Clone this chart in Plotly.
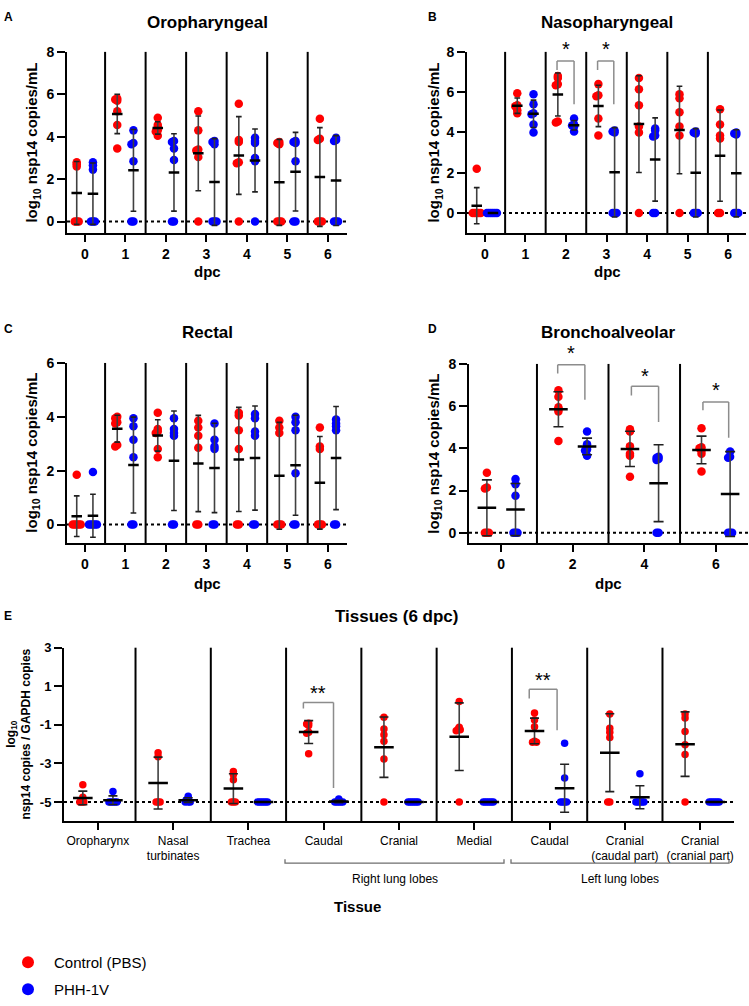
import plotly.graph_objects as go
import numpy as np

W, H = 749, 1006
RED, BLUE = "#FF0000", "#0000FF"
FONT = "Liberation Sans, Arial, Helvetica, sans-serif"
NARROW = "Liberation Sans Narrow, Arial Narrow, Liberation Sans, sans-serif"

# ---------------- data (log10 values) ----------------
dpc_labels = ["0", "1", "2", "3", "4", "5", "6"]

oro_pbs = [[2.8, 2.7, 2.6, 0, 0, 0],
           [5.8, 5.75, 5.7, 5.2, 4.55, 3.45],
           [4.9, 4.55, 4.45, 4.3, 4.25, 4.05],
           [5.2, 4.3, 3.4, 3.35, 3.05, 0],
           [5.55, 3.85, 3.75, 2.8, 2.75, 0],
           [3.75, 3.7, 3.65, 0, 0, 0],
           [4.85, 3.9, 3.85, 0, 0, 0]]
oro_phh = [[2.8, 2.65, 2.45, 0, 0, 0],
           [4.3, 3.7, 3.65, 2.85, 0, 0],
           [3.8, 3.75, 3.45, 2.9, 0, 0],
           [3.8, 3.75, 3.65, 0, 0, 0],
           [3.95, 3.8, 3.7, 3.0, 2.85, 0],
           [3.8, 3.75, 3.7, 2.85, 0, 0],
           [3.95, 3.85, 3.8, 0, 0, 0]]

naso_pbs = [[2.2, 0, 0, 0, 0, 0],
            [5.95, 5.35, 5.3, 5.1, 4.95],
            [6.8, 6.7, 6.4, 6.35, 4.55, 4.5],
            [6.4, 5.85, 5.8, 4.7, 3.85],
            [6.7, 6.15, 5.35, 4.3, 4.0, 0],
            [5.9, 5.7, 5.0, 4.3, 3.85, 0],
            [5.15, 4.4, 3.85, 3.7, 0, 0]]
naso_phh = [[0, 0, 0, 0, 0, 0],
            [5.9, 5.4, 4.95, 4.9, 4.4, 4.0],
            [4.7, 4.4, 4.35, 4.3, 4.05],
            [4.1, 4.05, 4.0, 0, 0, 0],
            [4.2, 4.1, 3.85, 3.8, 0, 0],
            [4.05, 4.0, 3.95, 0, 0, 0],
            [4.0, 3.95, 3.9, 0, 0, 0]]

rect_pbs = [[1.85, 0, 0, 0, 0, 0],
            [4.0, 3.95, 3.8, 3.75, 2.95, 2.9],
            [4.15, 3.55, 3.45, 3.4, 2.8, 2.5],
            [3.85, 3.6, 3.3, 2.85, 0, 0],
            [4.15, 4.05, 3.5, 2.8, 0, 0],
            [3.85, 3.6, 3.4, 0, 0, 0],
            [3.6, 2.9, 2.8, 0, 0, 0]]
rect_phh = [[1.95, 0, 0, 0, 0, 0],
            [3.95, 3.65, 3.15, 2.5, 0, 0],
            [3.95, 3.55, 3.4, 3.3, 0, 0],
            [3.75, 3.15, 2.9, 2.8, 0, 0],
            [4.1, 3.95, 3.45, 3.3, 0, 0],
            [4.0, 3.8, 3.5, 1.9, 0, 0],
            [3.9, 3.75, 3.65, 3.5, 0, 0]]

bal_labels = ["0", "2", "4", "6"]
bal_pbs = [[2.85, 2.15, 2.1, 0, 0, 0],
           [6.75, 6.45, 5.95, 5.85, 5.75, 4.35],
           [4.9, 4.8, 4.1, 3.75, 3.65, 2.65],
           [4.95, 4.05, 4.0, 3.9, 3.75, 2.9]]
bal_phh = [[2.55, 2.3, 1.75, 0, 0, 0],
           [4.8, 4.2, 4.05, 3.95, 3.9, 3.65],
           [3.6, 3.55, 3.5, 3.45, 0, 0],
           [3.85, 3.6, 3.55, 0, 0, 0]]

tissue_labels = ["Oropharynx", "Nasal<br>turbinates", "Trachea", "Caudal", "Cranial",
                 "Medial", "Caudal", "Cranial<br>(caudal part)", "Cranial<br>(cranial part)"]
tis_pbs = [[-4.1, -4.75, -4.9, -5, -5, -5],
           [-2.45, -2.65, -5, -5, -5],
           [-3.42, -3.57, -3.85, -5, -5, -5],
           [-0.92, -0.96, -1.04, -1.39, -1.44, -2.5],
           [-0.61, -1.22, -1.51, -1.85, -2.77, -5],
           [0.21, -1.13, -1.22, -1.25, -1.3, -5],
           [-0.39, -0.75, -1.1, -1.85, -1.9, -1.9],
           [-0.44, -1.18, -1.39, -1.65, -5, -5],
           [-0.44, -0.65, -1.34, -2.03, -2.54, -5]]
tis_phh = [[-4.45, -5, -5, -5, -5, -5],
           [-4.7, -4.83, -4.9, -5, -5, -5],
           [-5, -5, -5, -5, -5, -5],
           [-4.85, -5, -5, -5, -5, -5],
           [-5, -5, -5, -5, -5, -5],
           [-5, -5, -5, -5, -5, -5],
           [-1.96, -3.76, -5, -5, -5, -5],
           [-3.54, -5, -5, -5, -5, -5],
           [-5, -5, -5, -5, -5, -5]]

group_names = ["Control (PBS)", "PHH-1V"]

# significance brackets: (category, left offset, right offset, top, left foot, right foot, star y, text)
naso_sig = [(2, -0.22, 0.2, 7.55, 7.1, 5.4, 8.15, "*"),
            (3, -0.22, 0.18, 7.55, 7.1, 5.4, 8.15, "*")]
bal_sig = [(1, -0.21, 0.17, 7.96, 7.55, 6.3, 8.5, "*"),
           (2, -0.18, 0.2, 6.94, 6.5, 5.25, 7.45, "*"),
           (3, -0.18, 0.18, 6.2, 5.8, 4.5, 6.75, "*")]
tis_sig = [(3, -0.27, 0.13, 0.16, -0.15, -4.27, 0.65, "**"),
           (6, -0.27, 0.10, 0.84, 0.37, -1.28, 1.3, "**")]

# ---------------- layout helpers ----------------
panels = [
    dict(k="", cats=dpc_labels, pbs=oro_pbs, phh=oro_phh, px=(67, 347), py=(45, 231),
         yr=(-0.55, 8), xr=(-0.44, 6.47), yt=[0, 2, 4, 6, 8], base=0, sig=[], E=False),
    dict(k="2", cats=dpc_labels, pbs=naso_pbs, phh=naso_phh, px=(467, 746), py=(45, 231),
         yr=(-1.0, 8), xr=(-0.44, 6.44), yt=[0, 2, 4, 6, 8], base=0, sig=naso_sig, E=False),
    dict(k="3", cats=dpc_labels, pbs=rect_pbs, phh=rect_phh, px=(67, 347), py=(364, 549),
         yr=(-0.7, 6), xr=(-0.44, 6.47), yt=[0, 2, 4, 6], base=0, sig=[], E=False),
    dict(k="4", cats=bal_labels, pbs=bal_pbs, phh=bal_phh, px=(469, 748), py=(365, 549),
         yr=(-0.5, 8), xr=(-0.45, 3.45), yt=[0, 2, 4, 6, 8], base=0, sig=bal_sig, E=False),
    dict(k="5", cats=tissue_labels, pbs=tis_pbs, phh=tis_phh, px=(64, 734), py=(656, 834),
         yr=(-6, 3), xr=(-0.45, 8.45), yt=[-5, -3, -1, 1, 3], base=-5, sig=tis_sig, E=True),
]


def to_paper(p, x, y):
    fx = (x - p["xr"][0]) / (p["xr"][1] - p["xr"][0])
    fy = (y - p["yr"][0]) / (p["yr"][1] - p["yr"][0])
    px = p["px"][0] + fx * (p["px"][1] - p["px"][0])
    py = p["py"][1] - fy * (p["py"][1] - p["py"][0])
    return px / W, 1 - py / H


def swarm(vals, ppx, ppy, step=1.0, mind=2.0):
    placed, out = [], []
    seq = [0]
    for k in range(1, 40):
        seq += [-k, k]
    for v in vals:
        yp = v * ppy
        dx = 0
        for k in seq:
            dx = k * step
            if all((dx - a) ** 2 + (yp - b) ** 2 >= mind ** 2 for a, b in placed):
                break
        placed.append((dx, yp))
        out.append(dx / ppx)
    return out


fig = go.Figure()
shapes, annotations = [], []
layout = dict(width=W, height=H, margin=dict(l=0, r=0, t=0, b=0), autosize=False,
              plot_bgcolor="white", paper_bgcolor="white")

for pi, p in enumerate(panels):
    k = p["k"]
    xref, yref = "x" + k, "y" + k
    ppx = (p["px"][1] - p["px"][0]) / (p["xr"][1] - p["xr"][0])
    ppy = (p["py"][1] - p["py"][0]) / (p["yr"][1] - p["yr"][0])
    E = p["E"]
    tfont = dict(family=FONT, size=13 if E else 14, color="black", weight="bold")
    xdom = [p["px"][0] / W, p["px"][1] / W]
    ydom = [1 - p["py"][1] / H, 1 - p["py"][0] / H]
    common = dict(showline=True, linecolor="black", linewidth=2, ticks="outside",
                  tickcolor="black", tickwidth=2, showgrid=False, zeroline=False, fixedrange=True)
    layout["xaxis" + k] = dict(common, domain=xdom, range=list(p["xr"]), anchor=yref, ticklen=7,
                              tickvals=list(range(len(p["cats"]))), ticktext=p["cats"], tickangle=0,
                              tickfont=dict(family=NARROW, size=12, color="black") if E else tfont)
    layout["yaxis" + k] = dict(common, domain=ydom, range=list(p["yr"]), anchor=xref, ticklen=8,
                              tickvals=p["yt"], ticktext=[str(v) for v in p["yt"]], tickfont=tfont)
    msize = 7.5 if E else 8.5
    capw = 0.12 if E else 0.14
    meanw = 0.26
    for gi, (data, color, off) in enumerate([(p["pbs"], RED, -0.2), (p["phh"], BLUE, 0.2)]):
        xs, ys = [], []
        vx, vy, cx, cy, mx, my = [], [], [], [], [], []
        for ci, vals in enumerate(data):
            xc = ci + off
            jit = swarm(vals, ppx, ppy, step=1.0, mind=2.0)
            xs += [xc + j for j in jit]
            ys += list(vals)
            arr = np.array(vals, dtype=float)
            m = arr.mean()
            s = arr.std(ddof=1)
            vx += [xc, xc, None]
            vy += [m - s, m + s, None]
            cx += [xc - capw / 2, xc + capw / 2, None, xc - capw / 2, xc + capw / 2, None]
            cy += [m - s, m - s, None, m + s, m + s, None]
            mx += [xc - meanw / 2, xc + meanw / 2, None]
            my += [m, m, None]
        fig.add_trace(go.Scatter(x=xs, y=ys, mode="markers", xaxis=xref, yaxis=yref,
                                 marker=dict(color=color, size=msize, line=dict(width=0)),
                                 name=group_names[gi], showlegend=(pi == 0),
                                 legend="legend" if gi == 0 else "legend2",
                                 cliponaxis=False, hoverinfo="skip"))
        fig.add_trace(go.Scatter(x=vx, y=vy, mode="lines", xaxis=xref, yaxis=yref,
                                 line=dict(color="#404040", width=1.6), showlegend=False, hoverinfo="skip"))
        fig.add_trace(go.Scatter(x=cx, y=cy, mode="lines", xaxis=xref, yaxis=yref,
                                 line=dict(color="#202020", width=1.6), showlegend=False, hoverinfo="skip"))
        fig.add_trace(go.Scatter(x=mx, y=my, mode="lines", xaxis=xref, yaxis=yref,
                                 line=dict(color="black", width=2.5), showlegend=False, hoverinfo="skip"))
    # separators
    for i in range(len(p["cats"]) - 1):
        shapes.append(dict(type="line", xref=xref, yref=yref + " domain", x0=i + 0.5, x1=i + 0.5,
                           y0=0, y1=1, line=dict(color="black", width=2), layer="above"))
    # dotted baseline
    shapes.append(dict(type="line", xref=xref + " domain", yref=yref, x0=0, x1=1,
                       y0=p["base"], y1=p["base"], line=dict(color="black", width=2, dash="dot"),
                       layer="below"))
    # significance
    for (ci, lo, ro, top, lf, rf, sy, txt) in p["sig"]:
        xl, xr_ = ci + lo, ci + ro
        for (x0, y0, x1, y1) in [(xl, lf, xl, top), (xl, top, xr_, top), (xr_, top, xr_, rf)]:
            shapes.append(dict(type="line", xref=xref, yref=yref, x0=x0, y0=y0, x1=x1, y1=y1,
                               line=dict(color="#8c8c8c", width=1.5), layer="above"))
        sx, syp = to_paper(p, (xl + xr_) / 2, sy)
        annotations.append(dict(x=sx, y=syp, xref="paper", yref="paper", text=txt,
                                showarrow=False, xanchor="center", yanchor="middle",
                                font=dict(family=FONT, size=20, color="black")))


def pa(x, y, text, size, weight="bold", family=FONT, angle=0, xanchor="center", yanchor="middle"):
    annotations.append(dict(x=x / W, y=1 - y / H, xref="paper", yref="paper", text=text,
                            showarrow=False, xanchor=xanchor, yanchor=yanchor, textangle=angle,
                            font=dict(family=family, size=size, color="black", weight=weight)))


# panel letters
pa(2, 9, "A", 12, xanchor="left")
pa(426, 9, "B", 12, xanchor="left")
pa(2, 329, "C", 12, xanchor="left")
pa(426, 329, "D", 12, xanchor="left")
pa(2, 624, "E", 12, xanchor="left")
# titles
pa(207, 15, "Oropharyngeal", 17)
pa(607, 15, "Nasopharyngeal", 17)
pa(207, 333, "Rectal", 17)
pa(608, 333, "Bronchoalveolar", 17)
pa(396, 624, "Tissues (6 dpc)", 17, family=NARROW)
# y titles
ytxt = "log<sub>10</sub> nsp14 copies/mL"
pa(33, 138, ytxt, 15, angle=-90)
pa(435, 138, ytxt, 15, angle=-90)
pa(33, 456, ytxt, 15, angle=-90)
pa(435, 457, ytxt, 15, angle=-90)
pa(19, 745, "log<sub>10</sub><br>nsp14 copies / GAPDH copies", 12, angle=-90, family=NARROW)
# x titles
pa(207, 270, "dpc", 15)
pa(607, 270, "dpc", 15)
pa(207, 590, "dpc", 15)
pa(608, 590, "dpc", 15)
pa(357, 921, "Tissue", 15)
# lung lobe groupings
for (x0, x1, lab) in [(285, 504, "Right lung lobes"), (511, 729, "Left lung lobes")]:
    yb = 877
    shapes.append(dict(type="path", xref="paper", yref="paper",
                       path="M %f,%f L %f,%f L %f,%f L %f,%f" % (x0 / W, 1 - (yb - 4) / H, x0 / W, 1 - yb / H,
                                                             x1 / W, 1 - yb / H, x1 / W, 1 - (yb - 4) / H),
                       line=dict(color="#6e6e6e", width=1.3)))
    pa((x0 + x1) / 2, 893, lab, 12, weight="normal", family=NARROW)

layout["shapes"] = shapes
layout["annotations"] = annotations
legend_common = dict(x=2 / W, xanchor="left", yanchor="top", itemwidth=42,
                     font=dict(family=FONT, size=15, color="black"), itemsizing="constant",
                     bgcolor="rgba(0,0,0,0)", tracegroupgap=0)
layout["legend"] = dict(legend_common, y=1 - 962 / H)
layout["legend2"] = dict(legend_common, y=1 - 990 / H)
layout["showlegend"] = True
fig.update_layout(**layout)
fig.write_html("out.html", config={"displayModeBar": False},
               post_script="document.body.style.margin='0';document.body.style.padding='0';"
                           "document.body.style.overflow='hidden';"
                           "document.documentElement.style.overflow='hidden';")
